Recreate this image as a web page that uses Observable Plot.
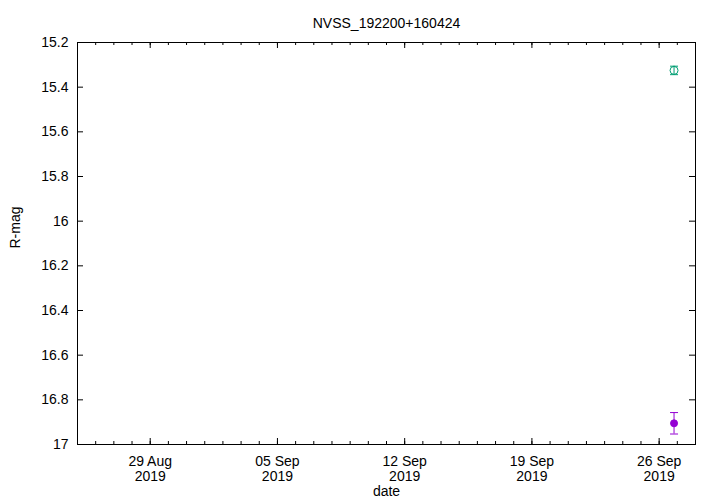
<!DOCTYPE html>
<html>
<head>
<meta charset="utf-8">
<script src="https://cdn.jsdelivr.net/npm/d3@7"></script>
<script src="https://cdn.jsdelivr.net/npm/@observablehq/plot@0.6"></script>
<style>
  html, body { margin: 0; padding: 0; background: #fff; }
</style>
</head>
<body>
<div id="chart"></div>
<script>
// ---- data ----
const title = "NVSS_192200+160424";
const xLabel = "date";
const yLabel = "R-mag";

const seriesA_date = [new Date("2019-09-26T19:40:00Z")];
const seriesA_mag = [15.325];
const seriesA_err = [0.019];

const seriesB_date = [new Date("2019-09-26T19:40:00Z")];
const seriesB_mag = [16.905];
const seriesB_err = [0.048];

const xDomain = [new Date("2019-08-25T00:00:00Z"), new Date("2019-09-28T00:00:00Z")];
const yDomain = [15.2, 17];
const majorDates = ["2019-08-29", "2019-09-05", "2019-09-12", "2019-09-19", "2019-09-26"].map(s => new Date(s + "T00:00:00Z"));
const yTicks = [15.2, 15.4, 15.6, 15.8, 16, 16.2, 16.4, 16.6, 16.8, 17];

// ---- derived tables ----
const A = seriesA_date.map((d, i) => ({date: d, mag: seriesA_mag[i], err: seriesA_err[i]}));
const B = seriesB_date.map((d, i) => ({date: d, mag: seriesB_mag[i], err: seriesB_err[i]}));
const minorDates = d3.utcDay.range(xDomain[0], d3.utcDay.offset(xDomain[1], 1));

const green = "#009e73";
const purple = "#9400d3";
const capSymbol = {draw(ctx, size) { const r = Math.sqrt(size / Math.PI); ctx.moveTo(-r, 0); ctx.lineTo(r, 0); }};

const W = 720, H = 504, mt = 42, mb = 60, ml = 77, mr = 25;
const fh = H - mt - mb, fw = W - ml - mr;
const fmtDate = d3.utcFormat("%d %b");
const fmtYear = d3.utcFormat("%Y");

function errMarks(data, color, filled) {
  return [
    Plot.ruleX(data, {x: "date", y1: d => d.mag - d.err, y2: d => d.mag + d.err, stroke: color, strokeWidth: 1}),
    Plot.dot(data, {x: "date", y: d => d.mag - d.err, symbol: capSymbol, r: 4, stroke: color, strokeWidth: 1}),
    Plot.dot(data, {x: "date", y: d => d.mag + d.err, symbol: capSymbol, r: 4, stroke: color, strokeWidth: 1}),
    filled
      ? Plot.dot(data, {x: "date", y: "mag", r: 3.5, fill: color, stroke: color, strokeWidth: 1})
      : Plot.dot(data, {x: "date", y: "mag", r: 4, fill: "none", stroke: color, strokeWidth: 1})
  ];
}

const chart = Plot.plot({
  width: W, height: H,
  marginTop: mt, marginBottom: mb, marginLeft: ml, marginRight: mr,
  style: {fontFamily: "'Liberation Sans', Arial, sans-serif", fontSize: "14px", color: "#000", background: "#fff"},
  x: {type: "utc", domain: xDomain},
  y: {domain: yDomain, reverse: true},
  marks: [
    // minor x ticks (bottom & top)
    Plot.tickX(minorDates, {x: d => d, insetTop: fh - 3, stroke: "#000", strokeWidth: 1}),
    Plot.tickX(minorDates, {x: d => d, insetBottom: fh - 3, stroke: "#000", strokeWidth: 1}),
    // major x ticks
    Plot.tickX(majorDates, {x: d => d, insetTop: fh - 6, stroke: "#000", strokeWidth: 1}),
    Plot.tickX(majorDates, {x: d => d, insetBottom: fh - 6, stroke: "#000", strokeWidth: 1}),
    // y ticks left & right
    Plot.tickY(yTicks, {y: d => d, insetRight: fw - 6, stroke: "#000", strokeWidth: 1}),
    Plot.tickY(yTicks, {y: d => d, insetLeft: fw - 6, stroke: "#000", strokeWidth: 1}),
    Plot.axisX(majorDates, {tickSize: 0, tickPadding: 11, lineHeight: 1.05, fontSize: 14,
      tickFormat: d => fmtDate(d) + "\n" + fmtYear(d), label: null}),
    Plot.axisY(yTicks, {tickSize: 0, tickPadding: 9, fontSize: 14, tickFormat: d => String(+d.toFixed(1)), label: null}),
    ...errMarks(A, green, false),
    ...errMarks(B, purple, true),
    Plot.frame({stroke: "#000", strokeWidth: 1}),
    Plot.text([title], {frameAnchor: "top", dy: -24, fontSize: 14, fill: "#000"}),
    Plot.text([xLabel], {frameAnchor: "bottom", dy: 51, fontSize: 14, fill: "#000"}),
    Plot.text([yLabel], {frameAnchor: "left", dx: -62, dy: 5, rotate: -90, fontSize: 14, fill: "#000"})
  ]
});
document.getElementById("chart").appendChild(chart);
</script>
</body>
</html>
